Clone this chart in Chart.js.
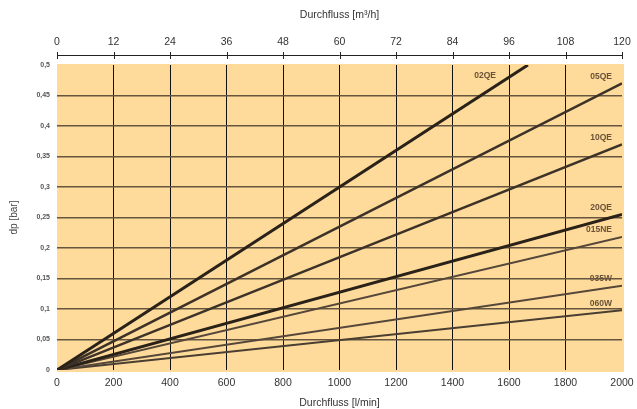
<!DOCTYPE html>
<html>
<head>
<meta charset="utf-8">
<script src="https://cdn.jsdelivr.net/npm/chart.js@4.4.1/dist/chart.umd.min.js"></script>
<style>
  html, body { margin: 0; padding: 0; background: #fff; }
  #wrap { width: 637px; height: 409px; }
</style>
</head>
<body>
<div id="wrap"><canvas id="dpChart" width="637" height="409"></canvas></div>
<script>
// Kennlinien: Druckverlust ueber Durchfluss (lineare Verlaeufe ab Nullpunkt)
const seriesNames = ['02QE', '05QE', '10QE', '20QE', '015NE', '035W', '060W'];
const seriesStartFlow = [0, 0, 0, 0, 0, 0, 0];
const seriesStartDp = [0, 0, 0, 0, 0, 0, 0];
const seriesEndFlow = [1667, 2000, 2000, 2000, 2000, 2000, 2000];
const seriesEndDp = [0.5, 0.47, 0.37, 0.255, 0.218, 0.138, 0.098];

const lineColors = ['#2a2119', '#3d3228', '#3d3228', '#2a2119', '#55473a', '#55473a', '#4a3e32'];
const lineWidths = [3, 2.5, 2.5, 3, 2, 2, 2];

const FONT = "'Liberation Sans', Arial, sans-serif";

const datasets = seriesNames.map((name, i) => ({
    label: name,
    data: [
        { x: seriesStartFlow[i], y: seriesStartDp[i] },
        { x: seriesEndFlow[i], y: seriesEndDp[i] }
    ],
    borderColor: lineColors[i],
    borderWidth: lineWidths[i],
    pointRadius: 0,
    fill: false,
    tension: 0,
    xAxisID: 'x',
    yAxisID: 'y'
}));

// orange Hintergrund der Diagrammflaeche
const plotBackground = {
    id: 'plotBackground',
    beforeDraw(chart) {
        const { ctx, chartArea } = chart;
        ctx.save();
        ctx.fillStyle = '#fedb9a';
        ctx.fillRect(chartArea.left, chartArea.top - 1, chartArea.right - chartArea.left + 2, chartArea.bottom - chartArea.top + 3);
        ctx.restore();
    }
};

// obere Achse (m3/h) als Linie mit Strichen
const topAxisLine = {
    id: 'topAxisLine',
    afterDraw(chart) {
        const { ctx, chartArea } = chart;
        const s = chart.scales.x2;
        const y = chartArea.top - 10;
        ctx.save();
        ctx.strokeStyle = '#222';
        ctx.lineWidth = 1;
        ctx.beginPath();
        ctx.moveTo(s.getPixelForValue(0), y + 0.5);
        ctx.lineTo(s.getPixelForValue(120), y + 0.5);
        s.ticks.forEach(t => {
            const px = Math.round(s.getPixelForValue(t.value)) + 0.5;
            ctx.moveTo(px, y - 3);
            ctx.lineTo(px, y + 4);
        });
        ctx.stroke();
        ctx.restore();
    }
};

// Typbezeichnungen an den Kennlinien
const lineLabels = {
    id: 'lineLabels',
    afterDatasetsDraw(chart) {
        const { ctx, chartArea } = chart;
        ctx.save();
        ctx.font = 'bold 8.5px ' + FONT;
        ctx.fillStyle = '#6a5238';
        ctx.textAlign = 'right';
        ctx.textBaseline = 'middle';
        chart.data.datasets.forEach((ds, i) => {
            const pts = chart.getDatasetMeta(i).data;
            const end = pts[pts.length - 1];
            if (end.x < chartArea.right - 5) {
                ctx.fillText(ds.label, end.x - 32, chartArea.top + 11);
            } else {
                ctx.fillText(ds.label, chartArea.right - 10, end.y - 7);
            }
        });
        ctx.restore();
    }
};

// keine automatische Randreserve fuer Achsenbeschriftungen
const noEdgePadding = s => { s.paddingLeft = 0; s.paddingRight = 0; };

const ctx = document.getElementById('dpChart').getContext('2d');
new Chart(ctx, {
    type: 'line',
    data: { datasets: datasets },
    options: {
        responsive: false,
        animation: false,
        layout: { padding: { left: 0, right: 15, top: 0, bottom: 0 } },
        plugins: {
            legend: { display: false },
            tooltip: { enabled: false }
        },
        scales: {
            x: {
                type: 'linear',
                position: 'bottom',
                min: 0,
                max: 2000,
                ticks: {
                    stepSize: 200,
                    padding: 7,
                    color: '#333',
                    font: { family: FONT, size: 10.5 },
                    callback: v => String(v)
                },
                grid: {
                    drawTicks: false,
                    color: ctx => (ctx.tick && (ctx.tick.value === 0 || ctx.tick.value === 2000)) ? 'rgba(0,0,0,0)' : '#111',
                    lineWidth: 1
                },
                border: { display: false },
                title: {
                    display: true,
                    text: 'Durchfluss [l/min]',
                    color: '#333',
                    font: { family: FONT, size: 10.5 },
                    padding: { top: 0, bottom: 0 }
                },
                afterFit: s => { s.height = 39; noEdgePadding(s); }
            },
            x2: {
                type: 'linear',
                position: 'top',
                min: 0,
                max: 120,
                ticks: {
                    stepSize: 12,
                    padding: 17,
                    color: '#333',
                    font: { family: FONT, size: 10.5 },
                    callback: v => String(v)
                },
                grid: { display: false, drawTicks: false, drawOnChartArea: false },
                border: { display: false },
                title: {
                    display: true,
                    text: 'Durchfluss [m³/h]',
                    color: '#333',
                    font: { family: FONT, size: 10.5 },
                    padding: { top: 9, bottom: 0 }
                },
                afterFit: s => { s.height = 65; noEdgePadding(s); }
            },
            y: {
                type: 'linear',
                position: 'left',
                min: 0,
                max: 0.5,
                ticks: {
                    stepSize: 0.05,
                    padding: 7,
                    color: '#555',
                    font: { family: FONT, size: 7, weight: 'bold' },
                    callback: v => String(Math.round(v * 100) / 100).replace('.', ',')
                },
                grid: {
                    drawTicks: false,
                    color: ctx => (ctx.tick && (ctx.tick.value === 0 || ctx.tick.value >= 0.5)) ? 'rgba(0,0,0,0)' : '#65553f',
                    lineWidth: 1.6
                },
                border: { display: false },
                title: {
                    display: true,
                    text: 'dp [bar]',
                    color: '#444',
                    font: { family: FONT, size: 10 },
                    padding: { top: 8, bottom: 0 }
                },
                afterFit: s => { s.width = 57; }
            }
        }
    },
    plugins: [plotBackground, topAxisLine, lineLabels]
});
</script>
</body>
</html>
